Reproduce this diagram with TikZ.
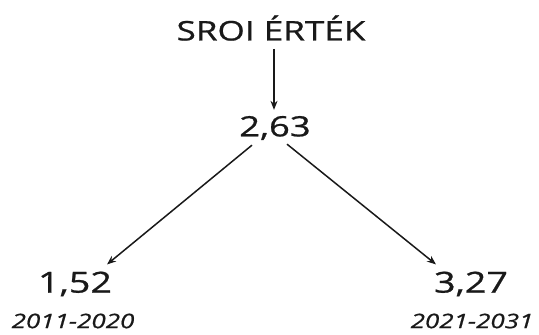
\documentclass[tikz,border=0pt]{standalone}
\usepackage{fontspec}
\setmainfont{Open Sans}[FakeStretch=1.3,FakeBold=0.8]
\usetikzlibrary{arrows.meta,calc}
\begin{document}
\begin{tikzpicture}[x=1pt,y=-1pt,
  lbl/.style={inner sep=0pt,text=black!90},
  arr/.style={-{Stealth[length=9pt,width=7pt]},line width=1.5pt,black!90}]
\useasboundingbox (0,0) rectangle (539,335);
\node[lbl,font=\fontsize{27}{29}\selectfont] (title) at (271,28) {SROI ÉRTÉK};
\node[lbl,font=\fontsize{28}{30}\selectfont] (mid) at (275,128) {2,63};
\node[lbl,font=\fontsize{29}{31}\selectfont] (left) at (75,284) {1,52};
\node[lbl,font=\fontsize{29}{31}\selectfont] (right) at (471,284) {3,27};
\node[lbl,font=\fontsize{20}{22}\selectfont\itshape] (ly) at (73,321) {2011-2020};
\node[lbl,font=\fontsize{20}{22}\selectfont\itshape] (ry) at (472,321) {2021-2031};
\coordinate (vs) at ($(title.south)+(3,8)$);
\coordinate (ve) at ($(mid.north)+(-1,-6)$);
\draw[arr] (vs) -- (ve);
\coordinate (ls) at ($(mid.south)+(-23,5)$);
\coordinate (le) at ($(left.north)+(32,-7)$);
\draw[arr] (ls) -- (le);
\coordinate (rs) at ($(mid.south)+(12,4)$);
\coordinate (re) at ($(right.north)+(-35,-7)$);
\draw[arr] (rs) -- (re);
\end{tikzpicture}
\end{document}
